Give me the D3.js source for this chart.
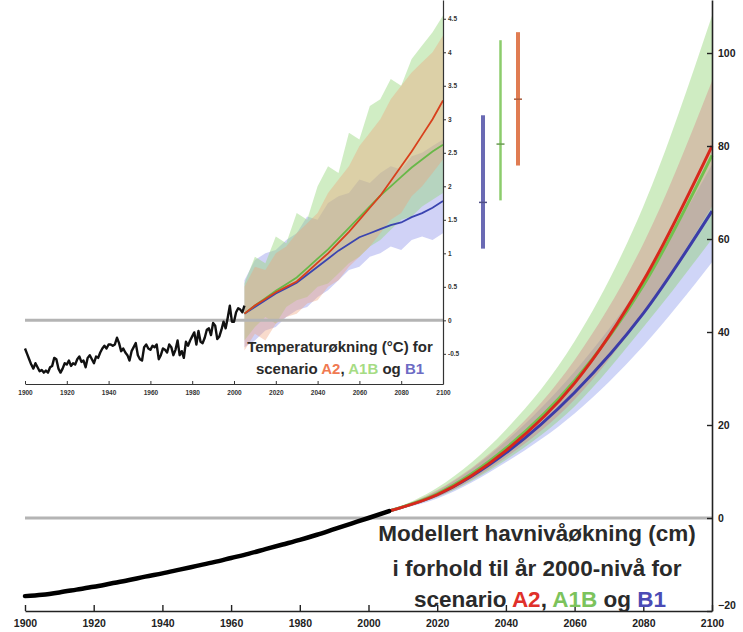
<!DOCTYPE html>
<html>
<head>
<meta charset="utf-8">
<script src="https://cdn.jsdelivr.net/npm/d3@7"></script>
<style>
    body { margin: 0; background: #fff; }
    svg { display: block; font-family: "Liberation Sans", Arial, sans-serif; }
</style>
</head>
<body>
<div id="chart"></div>
<script>
// ---- main chart: sea level (cm), relative to year 2000 ----
var seaYears = [1900, 1905, 1910, 1915, 1920, 1925, 1930, 1935, 1940, 1945, 1950,
                1955, 1960, 1965, 1970, 1975, 1980, 1985, 1990, 1995, 2000, 2006];
var seaLevel = [-16.8, -16.5, -16.0, -15.4, -14.8, -14.1, -13.4, -12.6, -11.9, -11.1, -10.3,
                -9.5, -8.6, -7.7, -6.7, -5.7, -4.7, -3.6, -2.4, -1.2, 0.0, 1.5];

var projYears = [2006, 2020, 2040, 2060, 2080, 2100];
var seaA2     = [1.5, 5.0, 14.5, 29.0, 51.0, 80.0];
var seaA2Low  = [1.5, 4.5, 13.0, 25.5, 44.0, 67.0];
var seaA2High = [1.5, 6.0, 17.0, 34.0, 59.0, 94.0];
var seaA1B     = [1.5, 5.2, 15.0, 29.5, 50.0, 78.0];
var seaA1BLow  = [1.5, 4.5, 12.5, 24.0, 41.0, 60.0];
var seaA1BHigh = [1.5, 6.5, 19.0, 38.0, 67.0, 108.0];
var seaB1     = [1.5, 5.0, 14.0, 27.0, 44.0, 66.0];
var seaB1Low  = [1.5, 4.2, 12.0, 22.5, 37.0, 55.0];
var seaB1High = [1.5, 5.8, 16.5, 31.5, 51.0, 76.0];

var seaTicksX = [1900, 1920, 1940, 1960, 1980, 2000, 2020, 2040, 2060, 2080, 2100];
var seaTicksY = [-20, 0, 20, 40, 60, 80, 100];

// ---- inset: temperature increase (degC) ----
var tempStart = 1900;
var tempObs = [
    -0.42, -0.50, -0.58, -0.66, -0.72, -0.64, -0.70, -0.76, -0.74, -0.78,
    -0.75, -0.78, -0.70, -0.68, -0.56, -0.58, -0.72, -0.78, -0.72, -0.64,
    -0.66, -0.60, -0.68, -0.64, -0.66, -0.58, -0.54, -0.62, -0.60, -0.70,
    -0.56, -0.52, -0.58, -0.64, -0.54, -0.56, -0.48, -0.42, -0.38, -0.42,
    -0.36, -0.36, -0.38, -0.36, -0.26, -0.34, -0.46, -0.42, -0.48, -0.52,
    -0.60, -0.46, -0.40, -0.34, -0.52, -0.58, -0.60, -0.40, -0.36, -0.42,
    -0.44, -0.38, -0.40, -0.36, -0.58, -0.52, -0.42, -0.44, -0.48, -0.36,
    -0.40, -0.52, -0.44, -0.30, -0.52, -0.46, -0.56, -0.32, -0.38, -0.30,
    -0.24, -0.18, -0.36, -0.16, -0.32, -0.34, -0.26, -0.14, -0.12, -0.22,
    -0.04, -0.08, -0.28, -0.24, -0.14, -0.02, -0.12, 0.04, 0.22, -0.02,
    -0.02, 0.12, 0.18, 0.16, 0.12, 0.22
];

var tempYears = [2005, 2010, 2015, 2020, 2025, 2030, 2035, 2040, 2045, 2050,
                 2055, 2060, 2065, 2070, 2075, 2080, 2085, 2090, 2095, 2100];
var tempA2     = [0.10, 0.22, 0.32, 0.42, 0.50, 0.58, 0.72, 0.86, 1.00, 1.16, 1.32, 1.50, 1.68, 1.86, 2.08, 2.30, 2.52, 2.76, 3.00, 3.28];
var tempA2Low  = [-0.45, -0.20, -0.30, -0.05, 0.05, 0.10, 0.25, 0.30, 0.50, 0.60, 0.80, 0.95, 1.10, 1.30, 1.50, 1.60, 1.85, 2.00, 2.20, 2.40];
var tempA2High = [0.50, 0.80, 0.75, 1.00, 1.10, 1.30, 1.45, 1.60, 1.90, 2.10, 2.30, 2.60, 2.80, 3.00, 3.30, 3.50, 3.70, 3.85, 4.00, 4.25];
var tempA1B     = [0.10, 0.22, 0.33, 0.44, 0.54, 0.64, 0.78, 0.92, 1.06, 1.22, 1.38, 1.54, 1.70, 1.86, 2.00, 2.14, 2.28, 2.40, 2.52, 2.62];
var tempA1BLow  = [-0.30, -0.10, 0.05, -0.05, 0.20, 0.30, 0.35, 0.50, 0.55, 0.70, 0.85, 0.95, 1.10, 1.20, 1.35, 1.50, 1.55, 1.70, 1.80, 1.90];
var tempA1BHigh = [0.55, 0.95, 0.85, 1.25, 1.15, 1.60, 1.50, 2.00, 2.30, 2.20, 2.80, 2.70, 3.20, 3.30, 3.60, 3.50, 3.90, 4.10, 4.30, 4.55];
var tempB1     = [0.10, 0.20, 0.30, 0.40, 0.48, 0.56, 0.68, 0.80, 0.92, 1.04, 1.14, 1.24, 1.30, 1.36, 1.42, 1.46, 1.54, 1.60, 1.68, 1.78];
var tempB1Low  = [-0.40, -0.30, -0.15, -0.10, 0.05, 0.15, 0.20, 0.35, 0.45, 0.60, 0.75, 0.80, 0.95, 1.00, 1.10, 1.05, 1.20, 1.25, 1.20, 1.30];
var tempB1High = [0.60, 0.90, 1.00, 1.05, 1.20, 1.30, 1.55, 1.50, 1.75, 1.85, 1.90, 2.10, 2.05, 2.20, 2.30, 2.25, 2.45, 2.50, 2.60, 2.70];

// likely ranges at 2100 (bars right of the inset)
var barScen = ['B1', 'A1B', 'A2'];
var barLow  = [1.07, 1.79, 2.31];
var barBest = [1.76, 2.63, 3.30];
var barHigh = [3.06, 4.18, 4.30];

var tempTicksX = [1900, 1920, 1940, 1960, 1980, 2000, 2020, 2040, 2060, 2080, 2100];
var tempTicksY = [-0.5, 0, 0.5, 1, 1.5, 2, 2.5, 3, 3.5, 4, 4.5];

(function () {
    'use strict';

    var W = 743, H = 632;

    var colA2 = '#d8281c', colA1B = '#72c04e', colB1 = '#3c3ca8';

    var svg = d3.select('#chart').append('svg')
        .attr('width', W)
        .attr('height', H);

    // builds rows {year, mid, low, high} from the arrays
    function rows(years, mid, low, high) {
        return years.map(function (yr, i) {
            return { year: yr, mid: mid[i], low: low[i], high: high[i] };
        });
    }

    //==================== main chart ====================
    var x = d3.scaleLinear().domain([1900, 2100]).range([25, 712]);
    var y = d3.scaleLinear().domain([-20, 111.4]).range([611, 0]);

    var main = svg.append('g').attr('class', 'main');

    // zero line
    main.append('line')
        .attr('x1', x(1900)).attr('x2', x(2100))
        .attr('y1', y(0)).attr('y2', y(0))
        .attr('stroke', '#b4b4b4')
        .attr('stroke-width', 3);

    var seaScen = [
        { name: 'B1', color: colB1, fill: 'rgba(135,150,235,0.40)', data: rows(projYears, seaB1, seaB1Low, seaB1High) },
        { name: 'A1B', color: colA1B, fill: 'rgba(140,210,110,0.42)', data: rows(projYears, seaA1B, seaA1BLow, seaA1BHigh) },
        { name: 'A2', color: colA2, fill: 'rgba(215,110,120,0.33)', data: rows(projYears, seaA2, seaA2Low, seaA2High) }
    ];

    var seaArea = d3.area()
        .x(function (d) { return x(d.year); })
        .y0(function (d) { return y(d.low); })
        .y1(function (d) { return y(d.high); })
        .curve(d3.curveMonotoneX);

    var seaLine = d3.line()
        .x(function (d) { return x(d.year); })
        .y(function (d) { return y(d.mid); })
        .curve(d3.curveMonotoneX);

    main.selectAll('path.band')
        .data(seaScen).enter()
        .append('path')
        .attr('class', 'band')
        .attr('d', function (d) { return seaArea(d.data); })
        .attr('fill', function (d) { return d.fill; });

    main.selectAll('path.mean')
        .data(seaScen).enter()
        .append('path')
        .attr('class', 'mean')
        .attr('d', function (d) { return seaLine(d.data); })
        .attr('fill', 'none')
        .attr('stroke', function (d) { return d.color; })
        .attr('stroke-width', 3);

    // observed
    var seaObs = seaYears.map(function (yr, i) { return { year: yr, mid: seaLevel[i] }; });
    main.append('path')
        .attr('d', seaLine(seaObs))
        .attr('fill', 'none')
        .attr('stroke', '#000')
        .attr('stroke-width', 4.5)
        .attr('stroke-linecap', 'round');

    // axes
    var xAxis = main.append('g')
        .attr('transform', 'translate(0,' + y(-20) + ')')
        .call(d3.axisBottom(x)
            .tickValues(seaTicksX)
            .tickFormat(d3.format('d'))
            .tickSizeInner(-6)
            .tickSizeOuter(0)
            .tickPadding(9));

    var yAxis = main.append('g')
        .attr('transform', 'translate(' + x(2100) + ',0)')
        .call(d3.axisRight(y)
            .tickValues(seaTicksY)
            .tickSizeInner(-5)
            .tickSizeOuter(0)
            .tickPadding(6));

    [xAxis, yAxis].forEach(function (ax) {
        ax.select('.domain').attr('stroke', '#222').attr('stroke-width', 1.6);
        ax.selectAll('.tick line').attr('stroke', '#222').attr('stroke-width', 1.4);
        ax.selectAll('text')
            .attr('font-family', '"Liberation Sans", Arial, sans-serif')
            .attr('font-size', 10.5)
            .attr('font-weight', 'bold')
            .attr('fill', '#222');
    });
    // -20 sits just above the corner
    yAxis.selectAll('.tick')
        .filter(function (d) { return d === -20; })
        .select('text')
        .attr('dy', '-0.2em');

    // caption
    var cap = main.append('text')
        .attr('text-anchor', 'middle')
        .attr('font-size', 22.5)
        .attr('font-weight', 'bold')
        .attr('fill', '#2a2a2a');
    cap.append('tspan').attr('x', 537).attr('y', 541).text('Modellert havnivåøkning (cm)');
    cap.append('tspan').attr('x', 537).attr('y', 576).text('i forhold til år 2000-nivå for');
    var l3 = cap.append('tspan').attr('x', 540).attr('y', 607);
    l3.append('tspan').text('scenario ');
    l3.append('tspan').attr('fill', '#e0302a').text('A2');
    l3.append('tspan').text(', ');
    l3.append('tspan').attr('fill', '#7cc35c').text('A1B');
    l3.append('tspan').text(' og ');
    l3.append('tspan').attr('fill', '#4b4bb5').text('B1');

    //==================== inset ====================
    var ix = d3.scaleLinear().domain([1900, 2100]).range([25, 443]);
    var iy = d3.scaleLinear().domain([-0.95, 4.78]).range([384, 0]);

    var inset = svg.append('g').attr('class', 'inset');

    var tempScen = [
        { name: 'B1', color: '#3a44b0', fill: 'rgba(150,155,235,0.45)', data: rows(tempYears, tempB1, tempB1Low, tempB1High) },
        { name: 'A1B', color: '#68b848', fill: 'rgba(150,215,125,0.45)', data: rows(tempYears, tempA1B, tempA1BLow, tempA1BHigh) },
        { name: 'A2', color: '#d8401c', fill: 'rgba(240,160,120,0.38)', data: rows(tempYears, tempA2, tempA2Low, tempA2High) }
    ];

    var tArea = d3.area()
        .x(function (d) { return ix(d.year); })
        .y0(function (d) { return iy(d.low); })
        .y1(function (d) { return iy(d.high); });

    var tLine = d3.line()
        .x(function (d) { return ix(d.year); })
        .y(function (d) { return iy(d.mid); });

    inset.selectAll('path.band')
        .data(tempScen).enter()
        .append('path')
        .attr('class', 'band')
        .attr('d', function (d) { return tArea(d.data); })
        .attr('fill', function (d) { return d.fill; });

    inset.append('line')
        .attr('x1', ix(1900)).attr('x2', ix(2100))
        .attr('y1', iy(0)).attr('y2', iy(0))
        .attr('stroke', '#b4b4b4')
        .attr('stroke-width', 3);

    inset.selectAll('path.mean')
        .data(tempScen).enter()
        .append('path')
        .attr('class', 'mean')
        .attr('d', function (d) { return tLine(d.data); })
        .attr('fill', 'none')
        .attr('stroke', function (d) { return d.color; })
        .attr('stroke-width', 1.8);

    var obs = tempObs.map(function (v, i) { return { year: tempStart + i, mid: v }; });
    inset.append('path')
        .attr('d', tLine(obs))
        .attr('fill', 'none')
        .attr('stroke', '#111')
        .attr('stroke-width', 2.4)
        .attr('stroke-linejoin', 'round');

    // likely-range bars
    var bx = d3.scalePoint().domain(barScen).range([483, 518]);
    var barCol = { B1: '#6a6ab4', A1B: '#8ccc6c', A2: '#e07c52' };
    var barW = { B1: 4, A1B: 2.5, A2: 4 };
    var bars = inset.selectAll('g.bar')
        .data(barScen).enter()
        .append('g')
        .attr('class', 'bar');
    bars.append('line')
        .attr('x1', function (d) { return bx(d); })
        .attr('x2', function (d) { return bx(d); })
        .attr('y1', function (d, i) { return iy(barLow[i]); })
        .attr('y2', function (d, i) { return iy(barHigh[i]); })
        .attr('stroke', function (d) { return barCol[d]; })
        .attr('stroke-width', function (d) { return barW[d]; });
    bars.append('line')
        .attr('x1', function (d) { return bx(d) - 4; })
        .attr('x2', function (d) { return bx(d) + 4; })
        .attr('y1', function (d, i) { return iy(barBest[i]); })
        .attr('y2', function (d, i) { return iy(barBest[i]); })
        .attr('stroke', function (d) { return d3.color(barCol[d]).darker(0.8); })
        .attr('stroke-width', 1.5);

    // inset axes
    var ixAxis = inset.append('g')
        .attr('transform', 'translate(0,384)')
        .call(d3.axisBottom(ix)
            .tickValues(tempTicksX)
            .tickFormat(d3.format('d'))
            .tickSizeInner(-3)
            .tickSizeOuter(0)
            .tickPadding(6));

    var iyAxis = inset.append('g')
        .attr('transform', 'translate(' + ix(2100) + ',0)')
        .call(d3.axisRight(iy)
            .tickValues(tempTicksY)
            .tickFormat(function (d) { return String(d); })
            .tickSizeInner(3)
            .tickSizeOuter(0)
            .tickPadding(2));

    [ixAxis, iyAxis].forEach(function (ax) {
        ax.select('.domain').attr('stroke', '#333').attr('stroke-width', 1.2);
        ax.selectAll('.tick line').attr('stroke', '#333');
        ax.selectAll('text')
            .attr('font-family', '"Liberation Sans", Arial, sans-serif')
            .attr('font-size', 6.5)
            .attr('font-weight', 'bold')
            .attr('fill', '#333');
    });

    var icap = inset.append('text')
        .attr('text-anchor', 'middle')
        .attr('font-size', 15)
        .attr('font-weight', 'bold')
        .attr('fill', '#2a2a2a');
    icap.append('tspan').attr('x', 340).attr('y', 352).text('Temperaturøkning (°C) for');
    var il2 = icap.append('tspan').attr('x', 340).attr('y', 374);
    il2.append('tspan').text('scenario ');
    il2.append('tspan').attr('fill', '#f07a52').text('A2');
    il2.append('tspan').text(', ');
    il2.append('tspan').attr('fill', '#a6dc84').text('A1B');
    il2.append('tspan').text(' og ');
    il2.append('tspan').attr('fill', '#6c6cc4').text('B1');
})();
</script>
</body>
</html>
